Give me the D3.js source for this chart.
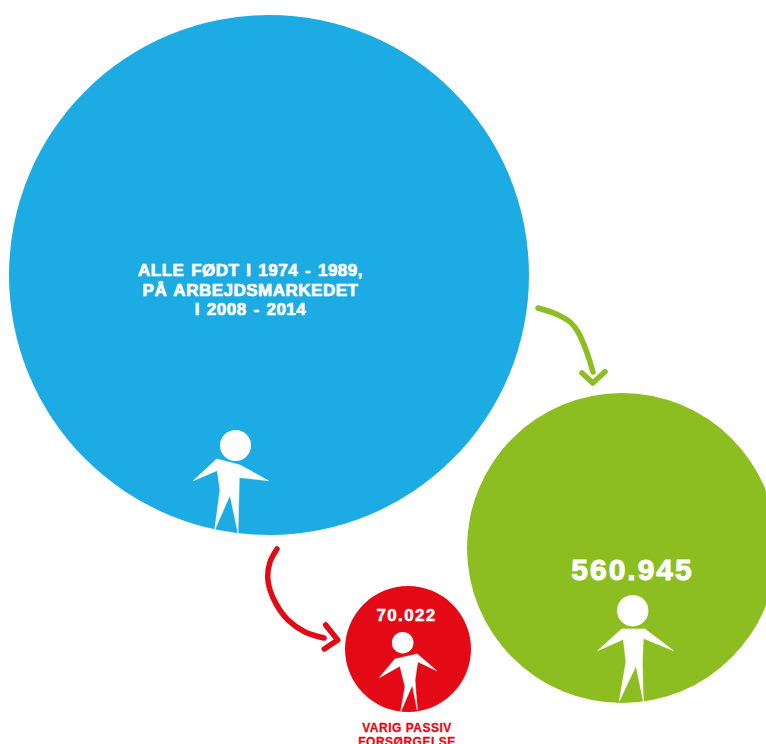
<!DOCTYPE html>
<html>
<head>
<meta charset="utf-8">
<script src="https://d3js.org/d3.v7.min.js"></script>
<style>
  html, body { margin: 0; padding: 0; background: #fff; overflow: hidden; }
  text { font-family: "Liberation Sans", Arial, sans-serif; font-weight: bold; text-anchor: middle; }
</style>
</head>
<body>
<div id="chart"></div>
<script>
var groups = ["all", "work", "passive"];
var counts = [630967, 560945, 70022];
var countLabels = ["", "560.945", "70.022"];
var colors = ["#1cabe2", "#8cbe22", "#e30a16"];

var w = 766,
    h = 744;

// bubbles in the original are not area true, so the radius is a piecewise scale
var radius = d3.scaleLinear()
  .domain([70022, 560945, 630967])
  .range([63, 155, 260]);

var centerX = d3.scaleOrdinal().domain(groups).range([269, 622, 408]);
var centerY = d3.scaleOrdinal().domain(groups).range([275, 548, 649]);

var svg = d3.select("#chart")
  .append("svg")
  .attr("width", w)
  .attr("height", h)
  .style("display", "block");

svg.selectAll(".bubble")
  .data(groups)
  .enter()
  .append("circle")
  .attr("class", "bubble")
  .attr("cx", function(d) { return centerX(d); })
  .attr("cy", function(d) { return centerY(d); })
  .attr("r", function(d, i) { return radius(counts[i]); })
  .attr("fill", function(d, i) { return colors[i]; });

// little people, drawn as outlines
var people = [
  { head: [235.5, 445.5], r: 15.5, body: [[216.7,459],[193.3,480.7],[217.3,470.5],[220,490],[214.7,530],[230,495],[238,533],[239.3,477.5],[268.5,480.7],[240,465]] },
  { head: [632.7, 610.7], r: 15.7, body: [[621.7,629],[597.7,650.7],[623.3,639.3],[626,661.7],[619.3,701],[636,665.7],[643.3,701],[642.3,661.7],[643.3,638.3],[673.5,650.7],[645,629]] },
  { head: [402.7, 642.7], r: 10.8, body: [[395,659],[379.3,677.7],[400,666],[405,686.7],[400.7,711.7],[412.3,685],[417.3,710],[415,680],[417.7,661.7],[436.7,670.7],[417.3,654]] }
];

var outline = d3.line().curve(d3.curveLinearClosed);

svg.selectAll(".head")
  .data(people)
  .enter()
  .append("circle")
  .attr("class", "head")
  .attr("cx", function(d) { return d.head[0]; })
  .attr("cy", function(d) { return d.head[1]; })
  .attr("r", function(d) { return d.r; })
  .attr("fill", "#fff");

svg.selectAll(".body")
  .data(people)
  .enter()
  .append("path")
  .attr("class", "body")
  .attr("d", function(d) { return outline(d.body); })
  .attr("fill", "#fff")
  .attr("stroke", "#fff")
  .attr("stroke-width", 0.6);

// arrows
var arrows = [
  { color: colors[1],
    shaft: [[538,308],[556,314],[570,322],[578,332],[586,350],[593,372]],
    tip: [[582,373],[592.7,383],[605,371.7]] },
  { color: colors[2],
    shaft: [[277,549],[270,562],[267.7,577],[270,590],[276.7,605],[288,620],[305,632],[324,638]],
    tip: [[325.7,625],[337.7,640],[324.3,649]] }
];

var curved = d3.line().curve(d3.curveCatmullRom.alpha(0.5));
var straight = d3.line();

arrows.forEach(function(a) {
  [curved(a.shaft), straight(a.tip)].forEach(function(p) {
    svg.append("path")
      .attr("d", p)
      .attr("fill", "none")
      .attr("stroke", a.color)
      .attr("stroke-width", 5.5)
      .attr("stroke-linecap", "round")
      .attr("stroke-linejoin", "round");
  });
});

// texts
var titleLines = ["ALLE FØDT I 1974 - 1989,", "PÅ ARBEJDSMARKEDET", "I 2008 - 2014"];
var titleY = [276, 295.5, 315];
var passiveLines = ["VARIG PASSIV", "FORSØRGELSE"];

svg.selectAll(".title")
  .data(titleLines)
  .enter()
  .append("text")
  .attr("class", "title")
  .attr("x", 250.5)
  .attr("y", function(d, i) { return titleY[i]; })
  .attr("font-size", 17)
  .attr("letter-spacing", 0.5)
  .attr("word-spacing", 1.6)
  .attr("fill", "#fff")
  .attr("stroke", "#fff")
  .attr("stroke-width", 0.7)
  .text(function(d) { return d; });

svg.append("text")
  .attr("x", 632.5)
  .attr("y", 580)
  .attr("font-size", 30)
  .attr("letter-spacing", 2)
  .attr("fill", "#fff")
  .attr("stroke", "#fff")
  .attr("stroke-width", 1)
  .text(countLabels[1]);

svg.append("text")
  .attr("x", 406.5)
  .attr("y", 621)
  .attr("font-size", 17)
  .attr("letter-spacing", 1.3)
  .attr("fill", "#fff")
  .attr("stroke", "#fff")
  .attr("stroke-width", 0.5)
  .text(countLabels[2]);

svg.selectAll(".passive")
  .data(passiveLines)
  .enter()
  .append("text")
  .attr("class", "passive")
  .attr("x", 407)
  .attr("y", function(d, i) { return 732 + i * 14; })
  .attr("font-size", 12)
  .attr("letter-spacing", 0.5)
  .attr("fill", colors[2])
  .attr("stroke", colors[2])
  .attr("stroke-width", 0.3)
  .text(function(d) { return d; });
</script>
</body>
</html>
